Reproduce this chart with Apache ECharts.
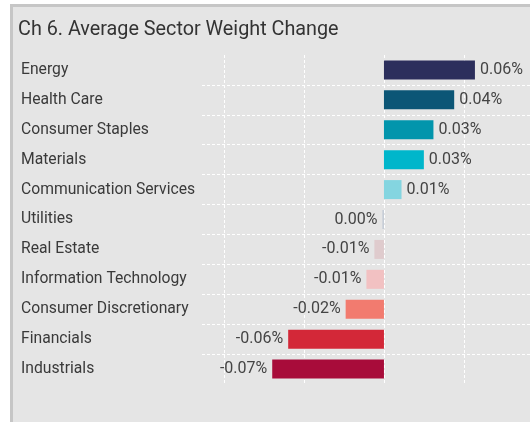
<!DOCTYPE html>
<html>
<head>
<meta charset="utf-8">
<script src="https://cdn.jsdelivr.net/npm/echarts@6/dist/echarts.min.js"></script>
<style>
  html, body { margin: 0; padding: 0; background: #fff; }
  #panel {
    position: absolute; left: 10px; top: 4px; width: 517px; height: 415px;
    border-left: 3px solid #c6c6c6; border-top: 3px solid #c6c6c6;
    background: #e5e5e5;
  }
  #chart { width: 517px; height: 415px; }
</style>
</head>
<body>
<div id="panel"><div id="chart"></div></div>
<script>
// 数据
const sectors = [
  'Energy', 'Health Care', 'Consumer Staples', 'Materials', 'Communication Services',
  'Utilities', 'Real Estate', 'Information Technology', 'Consumer Discretionary',
  'Financials', 'Industrials'
];
const weightChange = [0.057, 0.044, 0.031, 0.025, 0.011, -0.001, -0.006, -0.011, -0.024, -0.06, -0.07];
const barColors = [
  '#2c2f5c', '#0c5676', '#0295ac', '#00b6cb', '#84d5e0',
  '#c5ccd6', '#dfcbcd', '#f2c1c2', '#f27b6f', '#d32838', '#a80c3a'
];
const gridTicks = [-0.1, -0.05, 0, 0.05];

const font = 'Roboto';
const chart = echarts.init(document.getElementById('chart'));

chart.setOption({
  animation: false,
  title: {
    text: 'Ch 6. Average Sector Weight Change',
    left: 0, top: 8,
    textStyle: { fontFamily: font, fontSize: 19.8, fontWeight: 'normal', color: '#333' }
  },
  grid: { left: 189, right: 0, top: 48, bottom: 38 },
  xAxis: {
    type: 'value',
    min: -0.114, max: 0.0915,
    axisLine: { show: false }, axisTick: { show: false }, axisLabel: { show: false },
    splitLine: { show: false }
  },
  yAxis: {
    type: 'category',
    inverse: true,
    data: sectors,
    axisLine: { show: false }, axisTick: { show: false },
    axisLabel: {
      align: 'left', margin: 181, padding: [5, 0, 0, 0],
      fontFamily: font, fontSize: 15.7, color: '#3a3a3a'
    },
    splitLine: {
      show: true, showMinLine: false, showMaxLine: false,
      lineStyle: { color: '#fff', type: [3, 2], width: 1 }
    }
  },
  series: [
    {
      type: 'bar',
      z: 1,
      data: [],
      markLine: {
        z: 1,
        silent: true, symbol: 'none',
        label: { show: false },
        lineStyle: { color: '#fff', type: [3, 2], width: 1 },
        data: gridTicks.map(v => ({ xAxis: v }))
      }
    },
    {
      type: 'bar',
      z: 3,
      barWidth: 19,
      data: weightChange.map((v, i) => ({
        value: v,
        itemStyle: { color: barColors[i] },
        label: { position: v < 0 ? 'left' : 'right' }
      })),
      label: {
        show: true, distance: 5,
        fontFamily: font, fontSize: 16, color: '#444',
        formatter: p => (Math.round(p.value * 100) / 100).toFixed(2) + '%'
      }
    }
  ]
});
</script>
</body>
</html>
